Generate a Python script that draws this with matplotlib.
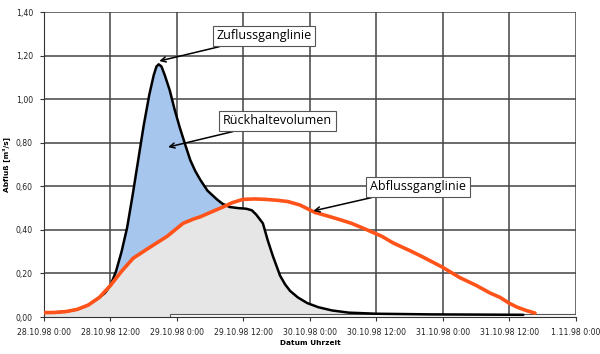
import matplotlib
matplotlib.use('Agg')
import matplotlib.pyplot as plt
from matplotlib.patches import Rectangle
import numpy as np

# hours after 28.10.98 0:00
zu_h = [0, 2, 4, 6, 8, 10, 11, 12, 13, 14, 15, 16, 17, 18, 19, 19.8, 20.3, 20.7,
        21.2, 21.8, 22.7, 23.6, 24.5, 25.5, 26.4, 27.3, 28.2, 29.5, 31.2, 32.2,
        33.5, 35.0, 36.5, 37.5, 38.3, 39.5, 40.4, 41.3, 42.6, 43.5, 44.4, 45.8,
        47.5, 49.5, 52.0, 55.0, 60.0, 70.0, 86.5]
zu_q = [0.02, 0.021, 0.025, 0.035, 0.055, 0.09, 0.11, 0.145, 0.21, 0.30, 0.41,
        0.56, 0.72, 0.88, 1.02, 1.11, 1.15, 1.16, 1.15, 1.11, 1.04, 0.95, 0.87,
        0.79, 0.72, 0.67, 0.63, 0.58, 0.54, 0.52, 0.505, 0.50, 0.497, 0.49, 0.47,
        0.43, 0.35, 0.28, 0.19, 0.15, 0.12, 0.09, 0.064, 0.045, 0.03, 0.02,
        0.015, 0.012, 0.01]

ab_h = [0, 2, 4, 6, 8, 10, 12, 14, 16.1, 19.1, 22.2, 25.1, 27.0, 28.2, 30.0,
        32.3, 34.0, 35.9, 38.0, 40.0, 42.0, 44.0, 46.2, 48.9, 51.0, 53.0, 55.5,
        58.3, 61.0, 63.0, 66.0, 68.4, 71.8, 75.1, 78.0, 80.5, 82.3, 83.9, 85.3,
        87.0, 88.6]
ab_q = [0.02, 0.021, 0.025, 0.035, 0.055, 0.09, 0.145, 0.21, 0.27, 0.32, 0.37,
        0.43, 0.45, 0.46, 0.48, 0.505, 0.525, 0.54, 0.542, 0.54, 0.536, 0.53,
        0.514, 0.48, 0.465, 0.45, 0.43, 0.40, 0.37, 0.34, 0.305, 0.275, 0.23,
        0.18, 0.145, 0.11, 0.09, 0.064, 0.046, 0.03, 0.018]

x_ticks = [0, 12, 24, 36, 48, 60, 72, 84, 96]
x_labels = ['28.10.98 0:00', '28.10.98 12:00', '29.10.98 0:00', '29.10.98 12:00',
            '30.10.98 0:00', '30.10.98 12:00', '31.10.98 0:00', '31.10.98 12:00',
            '1.11.98 0:00']
y_ticks = [0, 0.2, 0.4, 0.6, 0.8, 1.0, 1.2, 1.4]
y_labels = ['0,00', '0,20', '0,40', '0,60', '0,80', '1,00', '1,20', '1,40']

fig = plt.figure(figsize=(6, 3.54), dpi=100)
ax = fig.add_axes([0.0733, 0.1045, 0.8867, 0.8615])

# common time grid only for the fills
t = np.union1d(zu_h, ab_h)
t = t[t <= ab_h[-1]]
zu_t = np.interp(t, zu_h, zu_q)
ab_t = np.interp(t, ab_h, ab_q)

ax.fill_between(t, 0, np.minimum(zu_t, ab_t), color='#e6e6e6', lw=0, zorder=1)
ax.fill_between(t, ab_t, zu_t, where=zu_t > ab_t, interpolate=True,
                color='#a6c6ee', lw=0, zorder=1)
ax.add_patch(Rectangle((22.7, 0), 73.3, 0.012, fc='white', ec='#555555',
                       lw=0.8, zorder=2))

ax.plot(zu_h, zu_q, color='black', lw=1.8, zorder=3,
        solid_capstyle='round', solid_joinstyle='round')
ax.plot(ab_h, ab_q, color='#ff5319', lw=2.6, zorder=4,
        solid_capstyle='round', solid_joinstyle='round')

ax.set_xlim(0, 96)
ax.set_ylim(0, 1.4)
ax.set_xticks(x_ticks)
ax.set_xticklabels(x_labels)
ax.set_yticks(y_ticks)
ax.set_yticklabels(y_labels)
ax.tick_params(labelsize=5.6, labelcolor='#222222', length=3, width=0.8,
               color='#333333', pad=5)
ax.grid(True, color='#444444', lw=1.1)
ax.set_axisbelow(True)
for s in ['top', 'right']:
    ax.spines[s].set_visible(False)
ax.spines['left'].set_color('#333333')
ax.spines['bottom'].set_color('#333333')

ax.set_ylabel('Abfluß [m³/s]', fontsize=5.3, fontweight='bold')
ax.yaxis.set_label_coords(-0.064, 0.5)
ax.set_xlabel('Datum Uhrzeit', fontsize=5.3, fontweight='bold')
ax.xaxis.set_label_coords(0.5, -0.075)

box = dict(boxstyle='square,pad=0.3', fc='white', ec='#555555', lw=0.8)
arrow = dict(arrowstyle='->', color='black', lw=1.1, shrinkA=0, shrinkB=0)
notes = [('Zuflussganglinie', (20.8, 1.175), (39.7, 1.29)),
         ('Rückhaltevolumen', (22.4, 0.78), (42.1, 0.90)),
         ('Abflussganglinie', (48.6, 0.487), (67.5, 0.597))]
for txt, xy, xytext in notes:
    ax.annotate(txt, xy=xy, xytext=xytext, ha='center', va='center',
                fontsize=9, family='Open Sans', bbox=box, arrowprops=arrow,
                zorder=5)

fig.savefig('out.png', dpi=100)
